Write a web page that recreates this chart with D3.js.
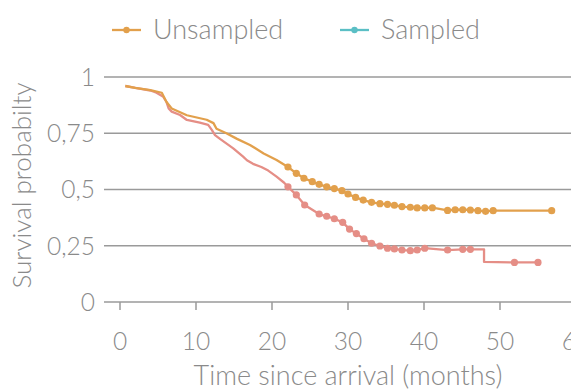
<!DOCTYPE html>
<html>
<head>
<meta charset="utf-8">
<script src="https://cdn.jsdelivr.net/npm/d3@7"></script>
<style>
  body { margin: 0; background: #fff; }
  svg { display: block; font-family: Lato, "Open Sans", sans-serif; font-weight: 300; }
</style>
</head>
<body>
<div id="root"></div>
<script>
// survival curves, time in months
const unsampledTime = [0.7, 2, 4, 5.5, 6.1, 6.8, 8.8, 11.4, 12.3, 12.7, 14, 15.4, 17.1, 18.9, 20.6];
const unsampledSurv = [0.96, 0.952, 0.942, 0.93, 0.89, 0.86, 0.83, 0.81, 0.795, 0.77, 0.75, 0.725, 0.698, 0.66, 0.631];
const unsampledMarkTime = [22.1, 23.2, 24.2, 25.3, 26.2, 27.2, 28.2, 29.2, 30.0, 31.0, 32.0, 33.1, 34.2, 35.2, 36.1, 37.1, 38.2, 39.1, 40.1, 41.1, 43.1, 44.1, 45.1, 46.1, 47.1, 48.1, 49.1, 56.8];
const unsampledMarkSurv = [0.60, 0.572, 0.55, 0.535, 0.523, 0.512, 0.504, 0.495, 0.48, 0.465, 0.453, 0.443, 0.437, 0.434, 0.43, 0.424, 0.421, 0.418, 0.418, 0.419, 0.407, 0.41, 0.41, 0.409, 0.406, 0.403, 0.406, 0.406];

const sampledTime = [0.7, 2, 4, 4.8, 5.7, 6.1, 6.4, 6.8, 7.9, 8.8, 10.5, 11.6, 12.1, 12.5, 13.2, 14.9, 16.2, 16.7, 17.5, 18.6, 19.5, 20.6, 21.6];
const sampledSurv = [0.96, 0.952, 0.94, 0.93, 0.912, 0.89, 0.86, 0.846, 0.831, 0.809, 0.797, 0.787, 0.764, 0.742, 0.724, 0.683, 0.646, 0.63, 0.614, 0.6, 0.584, 0.557, 0.53];
const sampledMarkTime = [22.1, 23.2, 24.3, 26.2, 27.2, 28.2, 29.3, 30.2, 31.1, 32.1, 33.1, 34.2, 35.2, 36.1, 37.1, 38.2, 39.1, 40.1, 43.1, 45.1, 46.1, 51.9, 55.0];
const sampledMarkSurv = [0.512, 0.476, 0.431, 0.391, 0.381, 0.37, 0.354, 0.324, 0.304, 0.281, 0.261, 0.249, 0.239, 0.236, 0.231, 0.228, 0.231, 0.239, 0.231, 0.234, 0.234, 0.176, 0.176];
// step drop near 48 months
const sampledStepTime = [47.9, 47.9];
const sampledStepSurv = [0.234, 0.178];

const xTicks = [0, 10, 20, 30, 40, 50, 60];
const yTicks = [0, 0.25, 0.5, 0.75, 1];
const seriesNames = ['Unsampled', 'Sampled'];

const w = 571, h = 391;
const lineColor = { Unsampled: '#e2a04c', Sampled: '#e58e86' };
const legendColor = { Unsampled: '#e2a04c', Sampled: '#5bbfc5' };

const svg = d3.select('#root').append('svg').attr('width', w).attr('height', h);

const x = d3.scaleLinear().domain([0, 60]).range([120, 576]);
const y = d3.scaleLinear().domain([0, 1]).range([302, 77]);

function zip(t, s) { return t.map((d, i) => ({ t: d, s: s[i] })); }

// y grid + labels
svg.append('g').selectAll('line').data(yTicks).enter().append('line')
  .attr('x1', 104).attr('x2', w)
  .attr('y1', d => y(d)).attr('y2', d => y(d))
  .attr('stroke', '#9a9a9a').attr('stroke-width', 1.5);

svg.append('g').selectAll('text').data(yTicks).enter().append('text')
  .attr('x', 95).attr('y', d => y(d)).attr('dy', '0.36em')
  .attr('text-anchor', 'end').attr('font-size', 24.5).attr('fill', '#8a8a8a')
  .text(d => String(d).replace('.', ','));

// x axis ticks
const xg = svg.append('g');
xg.selectAll('line').data(xTicks).enter().append('line')
  .attr('x1', d => x(d)).attr('x2', d => x(d))
  .attr('y1', y(0)).attr('y2', y(0) + 8)
  .attr('stroke', '#9a9a9a').attr('stroke-width', 1.5);
xg.selectAll('text').data(xTicks).enter().append('text')
  .attr('x', d => x(d)).attr('y', 350)
  .attr('text-anchor', 'middle').attr('font-size', 24.5).attr('fill', '#8a8a8a')
  .text(d => d);

svg.append('text').attr('x', (x(0) + x(60)) / 2).attr('y', 385)
  .attr('text-anchor', 'middle').attr('font-size', 27).attr('fill', '#8a8a8a')
  .text('Time since arrival (months)');

svg.append('text').attr('transform', `translate(31,${(y(0) + y(1)) / 2 - 4}) rotate(-90)`)
  .attr('text-anchor', 'middle').attr('font-size', 26).attr('fill', '#8a8a8a')
  .text('Survival probabilty');

// curves
const line = d3.line().x(d => x(d.t)).y(d => y(d.s));

const uLine = zip(unsampledTime, unsampledSurv).concat(zip(unsampledMarkTime, unsampledMarkSurv));
const sMarks = zip(sampledMarkTime, sampledMarkSurv);
const sLine = zip(sampledTime, sampledSurv)
  .concat(sMarks.filter(d => d.t < 47.9))
  .concat(zip(sampledStepTime, sampledStepSurv))
  .concat(sMarks.filter(d => d.t > 47.9));

const series = [
  { name: 'Sampled', line: sLine, marks: sMarks },
  { name: 'Unsampled', line: uLine, marks: zip(unsampledMarkTime, unsampledMarkSurv) }
];

series.forEach(sr => {
  svg.append('path').datum(sr.line)
    .attr('d', line).attr('fill', 'none')
    .attr('stroke', lineColor[sr.name]).attr('stroke-width', 2.3)
    .attr('stroke-linejoin', 'round');
  svg.append('g').selectAll('circle').data(sr.marks).enter().append('circle')
    .attr('cx', d => x(d.t)).attr('cy', d => y(d.s)).attr('r', 3.6)
    .attr('fill', lineColor[sr.name]);
});

// legend
const legX = [112, 340];
const leg = svg.append('g').selectAll('g').data(seriesNames).enter().append('g')
  .attr('transform', (d, i) => `translate(${legX[i]},30)`);
leg.append('line').attr('x1', 0).attr('x2', 29)
  .attr('stroke', d => legendColor[d]).attr('stroke-width', 2.3);
leg.append('circle').attr('cx', 14.5).attr('r', 3.2).attr('fill', d => legendColor[d]);
leg.append('text').attr('x', 41).attr('y', 9)
  .attr('font-size', 27).attr('fill', '#8a8a8a').text(d => d);
</script>
</body>
</html>
